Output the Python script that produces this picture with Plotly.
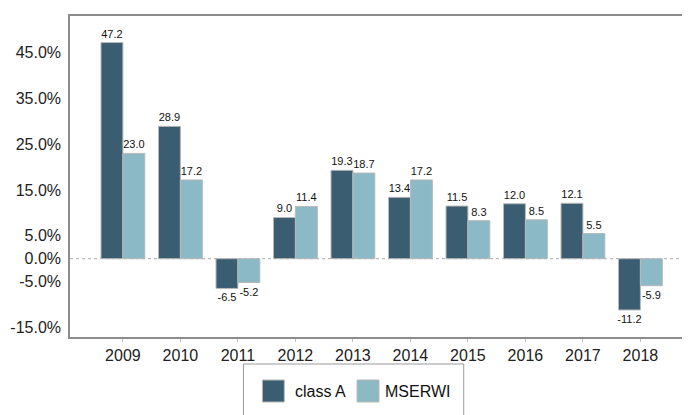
import plotly.graph_objects as go

years = ["2009", "2010", "2011", "2012", "2013", "2014", "2015", "2016", "2017", "2018"]
class_a = [47.2, 28.9, -6.5, 9.0, 19.3, 13.4, 11.5, 12.0, 12.1, -11.2]
mserwi = [23.0, 17.2, -5.2, 11.4, 18.7, 17.2, 8.3, 8.5, 5.5, -5.9]
y_ticks = [-15, -5, 0, 5, 15, 25, 35, 45]
y_tick_labels = ["-15.0%", "-5.0%", "0.0%", "5.0%", "15.0%", "25.0%", "35.0%", "45.0%"]
series_names = ["class A", "MSERWI"]
colors = ["#3b5d72", "#8bb9c5"]

FONT = "Liberation Sans, Arial, sans-serif"

fig = go.Figure()
for name, vals, col in zip(series_names, [class_a, mserwi], colors):
    fig.add_trace(go.Bar(
        x=years, y=vals, name=name, marker=dict(color=col, line=dict(color="#b8b8b8", width=1)),
        texttemplate="%{y:.1f}", textposition="outside", cliponaxis=False, constraintext="none",
        textfont=dict(size=11, color="#111", family=FONT), showlegend=False,
    ))

# page body has an 8px margin: compensate so that the figure lands where the reference is
OFF = 8
W, H = 690 - OFF, 415 - OFF
ml, mr, mt, mb = 70 - OFF, 1, 16 - OFF, 78
pw, ph = W - ml - mr, H - mt - mb

def px2paper(x, y):
    x -= OFF
    y -= OFF
    return (x - ml) / pw, (H - mb - y) / ph

shapes = [dict(type="line", xref="paper", x0=0, x1=1, yref="y", y0=0, y1=0,
               line=dict(color="#aaaaaa", width=1, dash="dot"), layer="below")]
# legend box
x0, y0 = px2paper(244, 364)
x1, y1 = px2paper(465, 440)
shapes.append(dict(type="rect", xref="paper", yref="paper", x0=x0, x1=x1, y0=y1, y1=y0,
                   line=dict(color="#999999", width=1), fillcolor="rgba(0,0,0,0)"))
annotations = []
items = [(263, 294), (358, 384)]
for (sx, tx), name, col in zip(items, series_names, colors):
    a0, b0 = px2paper(sx, 380)
    a1, b1 = px2paper(sx + 22, 402)
    shapes.append(dict(type="rect", xref="paper", yref="paper", x0=a0, x1=a1, y0=b1, y1=b0,
                       line=dict(color="#b8b8b8", width=1), fillcolor=col))
    tx_p, ty_p = px2paper(tx, 391)
    annotations.append(dict(xref="paper", yref="paper", x=tx_p, y=ty_p, text=name,
                            showarrow=False, xanchor="left", yanchor="middle",
                            font=dict(size=16, color="#111", family=FONT)))

fig.update_layout(
    width=W, height=H, margin=dict(l=ml, r=mr, t=mt, b=mb),
    barmode="group", bargap=0.238, bargroupgap=0,
    plot_bgcolor="white", paper_bgcolor="white",
    font=dict(family=FONT, color="#222"),
    shapes=shapes, annotations=annotations, showlegend=False,
    xaxis=dict(range=[-0.92, 9.81], showline=True, linecolor="#8c8c8c", linewidth=1.5, mirror=True,
               showgrid=False, zeroline=False, ticks="outside", ticklen=3, tickcolor="#bbbbbb",
               tickfont=dict(size=16, color="#222", family=FONT)),
    yaxis=dict(range=[-17.1, 53], showline=True, linecolor="#8c8c8c", linewidth=1.5, mirror=True,
               showgrid=False, zeroline=False, tickvals=y_ticks, ticktext=y_tick_labels,
               tickfont=dict(size=16, color="#222", family=FONT), ticks="", ticklabelstandoff=4),
)

fig.write_html("out.html")
